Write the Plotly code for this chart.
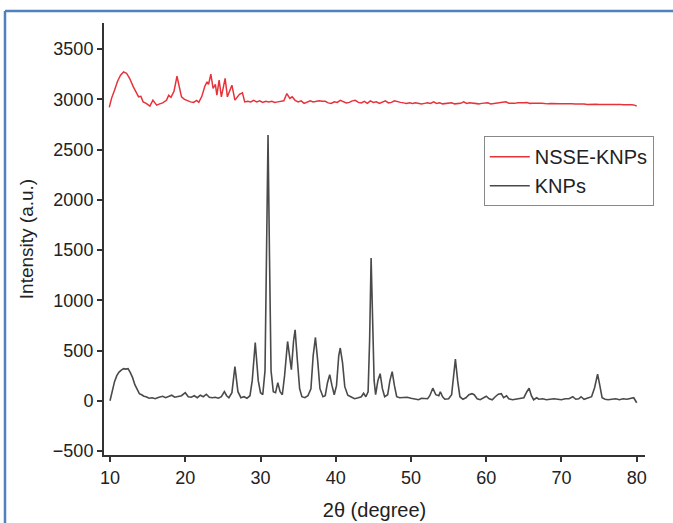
import plotly.graph_objects as go

# KNPs (black) pattern: 2theta, intensity
knps_x = [10.0, 10.3, 10.6, 10.9, 11.2, 11.5, 11.8, 12.1, 12.4, 12.7, 13.0, 13.3, 13.6, 13.9, 14.2, 14.5, 14.8,
          15.2, 15.6, 16.0, 16.5, 17.0, 17.4, 17.8, 18.2, 18.6, 19.0, 19.5, 20.0, 20.4, 20.8, 21.2, 21.6, 22.0,
          22.4, 22.8, 23.2, 23.6, 24.0, 24.4, 24.8, 25.2, 25.5, 25.8, 26.2, 26.6, 27.0, 27.4, 27.8, 28.2, 28.6,
          28.9, 29.3, 29.7, 30.0, 30.3, 30.6, 30.8, 31.0, 31.2, 31.4, 31.7, 32.0, 32.3, 32.6, 32.9, 33.2, 33.6,
          33.9, 34.1, 34.4, 34.6, 34.9, 35.2, 35.5, 35.9, 36.3, 36.7, 37.0, 37.3, 37.6, 37.9, 38.3, 38.6, 38.9,
          39.2, 39.5, 39.8, 40.1, 40.4, 40.6, 40.9, 41.2, 41.6, 42.0, 42.5, 43.0, 43.4, 43.7, 44.0, 44.3, 44.5,
          44.7, 44.9, 45.1, 45.3, 45.6, 45.9, 46.2, 46.5, 46.9, 47.2, 47.5, 47.8, 48.1, 48.5, 49.0, 49.5, 50.0,
          50.5, 51.0, 51.4, 51.8, 52.2, 52.5, 52.9, 53.3, 53.7, 53.9, 54.2, 54.5, 55.0, 55.4, 55.7, 55.9, 56.2,
          56.5, 56.9, 57.3, 57.7, 58.1, 58.4, 58.8, 59.2, 59.6, 60.0, 60.4, 60.8, 61.2, 61.6, 62.0, 62.3, 62.7,
          63.0, 63.5, 64.0, 64.5, 65.0, 65.4, 65.7, 66.0, 66.3, 66.7, 67.0, 67.5, 68.0, 68.5, 69.0, 69.5, 70.0,
          70.5, 71.0, 71.5, 71.9, 72.3, 72.6, 73.0, 73.5, 74.0, 74.4, 74.8, 75.1, 75.4, 75.8, 76.2, 76.7, 77.2,
          77.7, 78.2, 78.7, 79.2, 79.6, 80.0]
knps_y = [0, 100, 190, 250, 285, 305, 320, 315, 320, 280, 230, 160, 110, 70, 60, 45, 40,
          25, 30, 20, 35, 45, 30, 40, 55, 35, 40, 50, 80, 40, 35, 50, 30, 55,
          40, 65, 35, 30, 35, 25, 40, 90, 50, 30, 80, 340, 90, 30, 40, 25, 50,
          200, 580, 200, 80, 60, 300, 1500, 2645, 1400, 300, 90, 80, 180, 90, 60, 250, 590,
          450, 310, 600, 705, 400, 120, 40, 30, 50, 120, 450, 630, 400, 120, 40, 50, 180,
          260, 150, 60, 150, 450, 525, 380, 140, 55, 40, 20, 30, 40, 75, 40, 90, 600,
          1420, 900, 200, 60, 200, 270, 120, 40, 60, 200, 290, 150, 40, 30, 30, 35, 25,
          20, 10, 25, 20, 20, 50, 125, 60, 50, 90, 40, 15, 20, 60, 300, 415, 200,
          40, 15, 30, 60, 70, 60, 20, 10, 30, 45, 20, 10, 40, 65, 70, 30, 50,
          20, 10, 15, 20, 30, 90, 125, 50, 10, 30, 15, 20, 10, 15, 20, 15, 10,
          20, 20, 40, 15, 20, 40, 15, 30, 40, 130, 265, 150, 30, 15, 10, 15, 20,
          10, 20, 15, 20, 30, -20]

# NSSE-KNPs (red) pattern
nsse_x = [9.9, 10.2, 10.6, 11.0, 11.4, 11.8, 12.2, 12.6, 13.1, 13.5, 13.8, 14.1, 14.4, 14.8, 15.3, 15.7, 16.2,
          16.6, 17.0, 17.5, 17.8, 18.1, 18.5, 18.9, 19.2, 19.5, 19.9, 20.3, 20.7, 21.1, 21.5, 21.8, 22.2, 22.6,
          22.9, 23.1, 23.4, 23.7, 24.0, 24.2, 24.5, 24.8, 25.0, 25.3, 25.6, 25.9, 26.2, 26.6, 26.9, 27.2, 27.6,
          27.9, 28.3, 28.7, 29.1, 29.5, 29.9, 30.3, 30.7, 31.1, 31.5, 31.9, 32.3, 32.7, 33.1, 33.5, 33.9, 34.2,
          34.6, 35.0, 35.4, 35.8, 36.2, 36.6, 37.0, 37.4, 37.8, 38.2, 38.6, 39.0, 39.4, 39.8, 40.2, 40.6, 41.0,
          41.4, 41.8, 42.2, 42.6, 43.0, 43.4, 43.8, 44.2, 44.6, 45.0, 45.4, 45.8, 46.2, 46.6, 47.0, 47.4, 47.8,
          48.2, 48.6, 49.0, 49.4, 49.8, 50.2, 50.6, 51.0, 51.4, 51.8, 52.2, 52.6, 53.0, 53.4, 53.8, 54.2, 54.6,
          55.0, 55.4, 55.8, 56.2, 56.6, 57.0, 57.4, 57.8, 58.2, 58.6, 59.0, 59.4, 59.8, 60.2, 60.6, 61.0, 61.4,
          61.8, 62.2, 62.6, 63.0, 63.4, 63.8, 64.2, 64.6, 65.0, 65.4, 65.8, 66.2, 66.6, 67.0, 67.4, 67.8, 68.2,
          68.6, 69.0, 69.4, 69.8, 70.2, 70.6, 71.0, 71.4, 71.8, 72.2, 72.6, 73.0, 73.4, 73.8, 74.2, 74.6, 75.0,
          75.4, 75.8, 76.2, 76.6, 77.0, 77.4, 77.8, 78.2, 78.6, 79.0, 79.4, 79.8, 80.0]
nsse_y = [2920, 3010, 3090, 3180, 3240, 3273, 3260, 3210, 3124, 3060, 3025, 3030, 2975, 2960, 2932, 2992, 2942,
          2955, 2965, 2990, 3040, 3020, 3080, 3230, 3110, 3025, 3000, 2985, 2975, 2970, 2990, 2970, 3030, 3131,
          3174, 3150, 3250, 3108, 3150, 3042, 3191, 3025, 3100, 3208, 3025, 3080, 3141, 2992, 3020, 3050, 3065,
          2975, 2980, 2975, 2990, 2975, 2985, 2970, 2980, 2975, 2980, 2970, 2975, 2980, 2985, 3058, 3009, 3025,
          2990, 2975, 2985, 2960, 2970, 2985, 2975, 2980, 2985, 2980, 2980, 2965, 2960, 2975, 2970, 2990, 2975,
          2965, 2970, 2985, 2990, 2970, 2965, 2980, 2960, 2985, 2970, 2975, 2960, 2975, 2985, 2965, 2970, 2985,
          2975, 2970, 2965, 2960, 2965, 2960, 2965, 2960, 2955, 2960, 2965, 2960, 2975, 2960, 2965, 2955, 2960,
          2960, 2965, 2955, 2960, 2960, 2975, 2960, 2965, 2960, 2960, 2955, 2960, 2960, 2965, 2955, 2958, 2960,
          2962, 2968, 2975, 2962, 2958, 2960, 2965, 2962, 2965, 2968, 2960, 2962, 2958, 2960, 2962, 2958, 2955,
          2958, 2955, 2958, 2955, 2955, 2957, 2952, 2955, 2953, 2955, 2952, 2954, 2950, 2953, 2950, 2952, 2950,
          2952, 2948, 2950, 2948, 2950, 2947, 2950, 2946, 2948, 2945, 2947, 2940, 2932]

x_ticks = [10, 20, 30, 40, 50, 60, 70, 80]
y_ticks = [-500, 0, 500, 1000, 1500, 2000, 2500, 3000, 3500]

fig = go.Figure()
fig.add_trace(go.Scatter(x=nsse_x, y=nsse_y, mode="lines", name="NSSE-KNPs",
                         line=dict(color="#e8323a", width=1.5)))
fig.add_trace(go.Scatter(x=knps_x, y=knps_y, mode="lines", name="KNPs",
                         line=dict(color="#4a4a4a", width=1.6)))

font_family = "Liberation Sans, Arial, sans-serif"
axis_common = dict(showline=True, linecolor="#333333", linewidth=2, ticks="outside",
                   ticklen=5, tickwidth=2, tickcolor="#333333", showgrid=False, zeroline=False,
                   automargin=False,
                   tickfont=dict(size=18, color="#222222", family=font_family))

fig.update_layout(
    width=673, height=523,
    margin=dict(l=104, r=28, t=23, b=68),
    paper_bgcolor="white", plot_bgcolor="white",
    font=dict(family=font_family, color="#222222"),
    xaxis=dict(range=[9.2, 81.1], tickvals=x_ticks, ticktext=[str(v) for v in x_ticks],
               title=dict(text="2θ (degree)", font=dict(size=20), standoff=16), **axis_common),
    yaxis=dict(range=[-540, 3760], tickvals=y_ticks, ticktext=[str(v).replace("-", "\u2212") for v in y_ticks],
               title=dict(text="Intensity (a.u.)", font=dict(size=19), standoff=14), **axis_common),
    legend=dict(x=0.702, y=0.738, xanchor="left", yanchor="top",
                bordercolor="#888888", borderwidth=1, bgcolor="white",
                font=dict(size=20, color="#222222", family=font_family),
                tracegroupgap=0, itemwidth=40),
    showlegend=True,
    shapes=[
        dict(type="line", xref="paper", yref="paper", x0=-0.183, x1=1.06, y0=1.028, y1=1.028,
             line=dict(color="#4f81bd", width=2.5)),
        dict(type="line", xref="paper", yref="paper", x0=-0.183, x1=-0.183, y0=1.028, y1=-0.2,
             line=dict(color="#4f81bd", width=2.5)),
    ],
)

fig.write_html("out.html", config={"displayModeBar": False},
               post_script="document.body.style.margin='0px';")
